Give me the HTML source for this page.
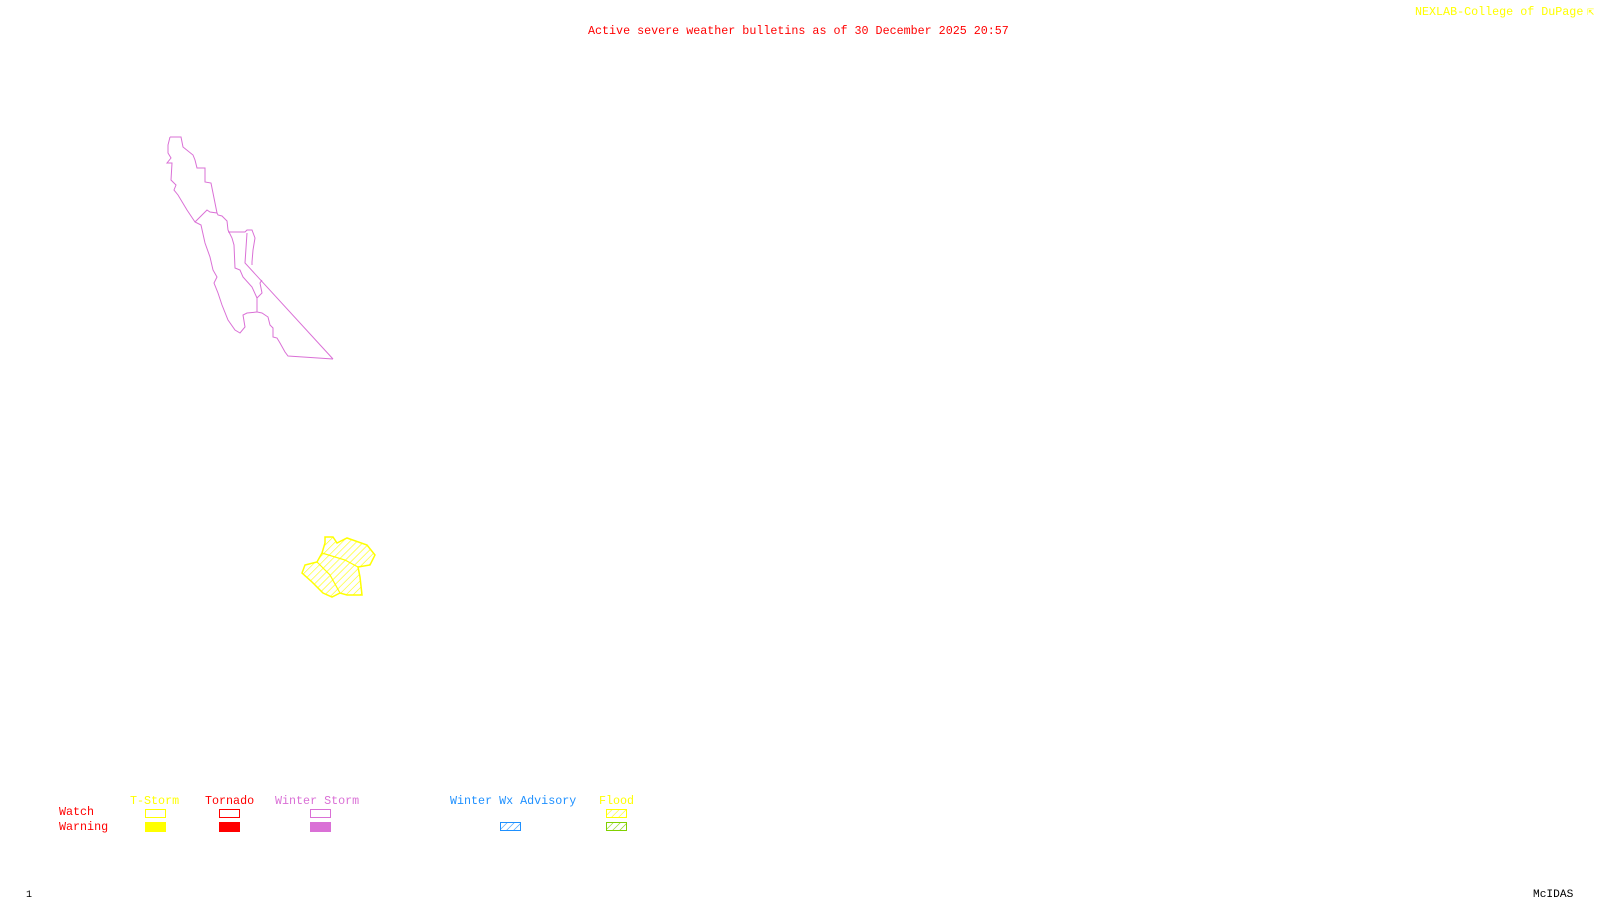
<!DOCTYPE html>
<html><head><meta charset="utf-8"><style>
html,body{margin:0;padding:0;background:#fff;width:1600px;height:900px;overflow:hidden}
svg{display:block}
text{font-family:"Liberation Mono",monospace;font-size:11.7px}
</style></head><body>
<svg width="1600" height="900" xmlns="http://www.w3.org/2000/svg">
<defs>
<pattern id="hy" width="5" height="5" patternUnits="userSpaceOnUse" patternTransform="rotate(45)"><line x1="0" y1="0" x2="0" y2="5" stroke="#ffff00" stroke-width="1.2"/></pattern>
<pattern id="hb" width="5" height="5" patternUnits="userSpaceOnUse" patternTransform="rotate(45)"><line x1="0" y1="0" x2="0" y2="5" stroke="#1e90ff" stroke-width="1.2"/></pattern>
<pattern id="hg" width="5" height="5" patternUnits="userSpaceOnUse" patternTransform="rotate(45)"><line x1="0" y1="0" x2="0" y2="5" stroke="#80d000" stroke-width="1.2"/></pattern>
</defs>
<text x="588" y="34" fill="#ff0000">Active severe weather bulletins as of 30 December 2025 20:57</text>
<text x="1415" y="15" fill="#ffff00">NEXLAB-College of DuPage</text>
<text x="1587" y="15" fill="#ffff00">⇱</text>

<g fill="none" stroke="#da70d6" stroke-width="1">
<polyline points="170,137 181,137 183,147 193,155 195,160 197,168 205,168 205,182 211,183 213,193 217,213 218,215 222,216 227,221 228,230 232,238 234,245 235,268 240,270 243,277 252,287 257,298 257,312 262,313 268,317 270,325 273,328 273,337 277,338 280,343 285,352 288,356 303,357 333,359"/>
<polyline points="170,137 168,145 168,153 171,158 167,163 172,163 171,180 176,185 174,190 178,195 187,210 195,222 201,225 205,243 210,257 213,270 217,277 214,283 218,293 222,305 228,320 235,330 240,333 245,327 243,315 247,313 257,312"/>
<polyline points="195,222 207,210 210,212 217,213"/>
<polyline points="228,232 245,232 247,230 252,230 255,238 253,250 252,262 252,265"/>
<polyline points="333,359 245,263 247,233"/>
<polyline points="257,298 262,293 260,283 262,280"/>
</g>

<polygon points="325,537 333,537 337,543 347,538 367,545 375,555 370,565 358,567 360,577 362,595 347,595 340,593 332,597 323,593 312,582 302,573 305,565 317,562 322,553 325,543" fill="url(#hy)" stroke="#ffff00" stroke-width="1.5"/>
<polyline points="317,562 330,575 340,593" fill="none" stroke="#ffff00" stroke-width="1.2"/>
<polyline points="322,553 345,560 358,567" fill="none" stroke="#ffff00" stroke-width="1.2"/>

<text x="59" y="815" fill="#ff0000">Watch</text>
<text x="59" y="830" fill="#ff0000">Warning</text>
<text x="130" y="804" fill="#ffff00">T-Storm</text>
<text x="205" y="804" fill="#ff0000">Tornado</text>
<text x="275" y="804" fill="#da70d6">Winter Storm</text>
<text x="450" y="804" fill="#1e90ff">Winter Wx Advisory</text>
<text x="599" y="804" fill="#ffff00">Flood</text>
<rect x="145.5" y="809.5" width="20" height="8" fill="none" stroke="#ffff00"/>
<rect x="145" y="822" width="21" height="10" fill="#ffff00"/>
<rect x="219.5" y="809.5" width="20" height="8" fill="none" stroke="#ff0000"/>
<rect x="219" y="822" width="21" height="10" fill="#ff0000"/>
<rect x="310.5" y="809.5" width="20" height="8" fill="none" stroke="#da70d6"/>
<rect x="310" y="822" width="21" height="10" fill="#da70d6"/>
<rect x="500.5" y="822.5" width="20" height="8" fill="url(#hb)" stroke="#1e90ff"/>
<rect x="606.5" y="809.5" width="20" height="8" fill="url(#hy)" stroke="#ffff00"/>
<rect x="606.5" y="822.5" width="20" height="8" fill="url(#hg)" stroke="#80d000"/>

<text x="26" y="897" fill="#000" style="font-size:10px">1</text>
<text x="1533" y="897" fill="#000" style="font-size:11.2px">McIDAS</text>
</svg>
</body></html>
